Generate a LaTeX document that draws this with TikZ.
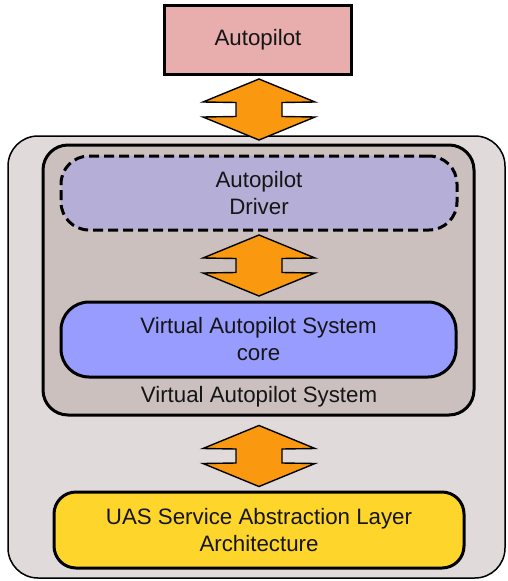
\documentclass[tikz,border=0pt]{standalone}
\usepackage{fontspec}
\setmainfont{Liberation Sans}
\usetikzlibrary{calc}

\definecolor{apfill}{HTML}{E8AEAE}
\definecolor{outerfill}{HTML}{E1DADB}
\definecolor{vasfill}{HTML}{CCC0BF}
\definecolor{drvfill}{HTML}{B5AFD7}
\definecolor{corefill}{HTML}{999CFF}
\definecolor{uasfill}{HTML}{FED52B}
\definecolor{arrowfill}{HTML}{FA990F}
\definecolor{txt}{HTML}{151515}

\tikzset{
  every node/.style={font=\fontsize{22.3}{27}\selectfont, text=txt, align=center, inner sep=0pt},
  layerbox/.style={draw=black, line width=3pt, rounded corners=#1},
  layerbox/.default=26pt,
  dblarrow/.pic={
    \draw[fill=arrowfill, line width=1.4pt, line join=miter]
      (0,-30.5) -- (56,-7.5) -- (23,-7) -- (23,7) -- (56,7.5) -- (0,30.5)
      -- (-56,7.5) -- (-23,7) -- (-23,-7) -- (-56,-7.5) -- cycle;
  }
}

\begin{document}
\begin{tikzpicture}[x=1pt,y=-1pt]
\useasboundingbox (0,0) rectangle (507,581);

% outer container
\node[draw=black, line width=1.5pt, rounded corners=30pt, fill=outerfill,
      minimum width=497pt, minimum height=442pt] (outer) at (256.5,357) {};

% Virtual Autopilot System container
\node[layerbox=25pt, fill=vasfill, minimum width=431pt, minimum height=270pt]
      (vas) at (258.5,280) {};
\node (vaslabel) at (259,397) {Virtual Autopilot System};

% autopilot hardware
\node[draw=black, line width=3pt, fill=apfill, minimum width=187pt, minimum height=69pt]
      (ap) at (258,40) {Autopilot};

% autopilot driver (dashed)
\node[layerbox=28pt, dash pattern=on 10pt off 5pt, fill=drvfill,
      minimum width=396pt, minimum height=74pt] (drv) at (259,193)
      {Autopilot\\Driver};

% core
\node[layerbox=28pt, fill=corefill, minimum width=395pt, minimum height=75pt]
      (core) at (258.5,339.5) {Virtual Autopilot System\\core};

% service abstraction layer
\node[layerbox=22pt, fill=uasfill, minimum width=410pt, minimum height=76pt]
      (uas) at (259,530) {UAS Service Abstraction Layer\\Architecture};

% bidirectional links
\coordinate (l1) at (259,109.5);
\coordinate (l2) at (259,265.5);
\coordinate (l3) at (259,456);
\pic at (l1) {dblarrow};
\pic at (l2) {dblarrow};
\pic at (l3) {dblarrow};
\end{tikzpicture}
\end{document}
